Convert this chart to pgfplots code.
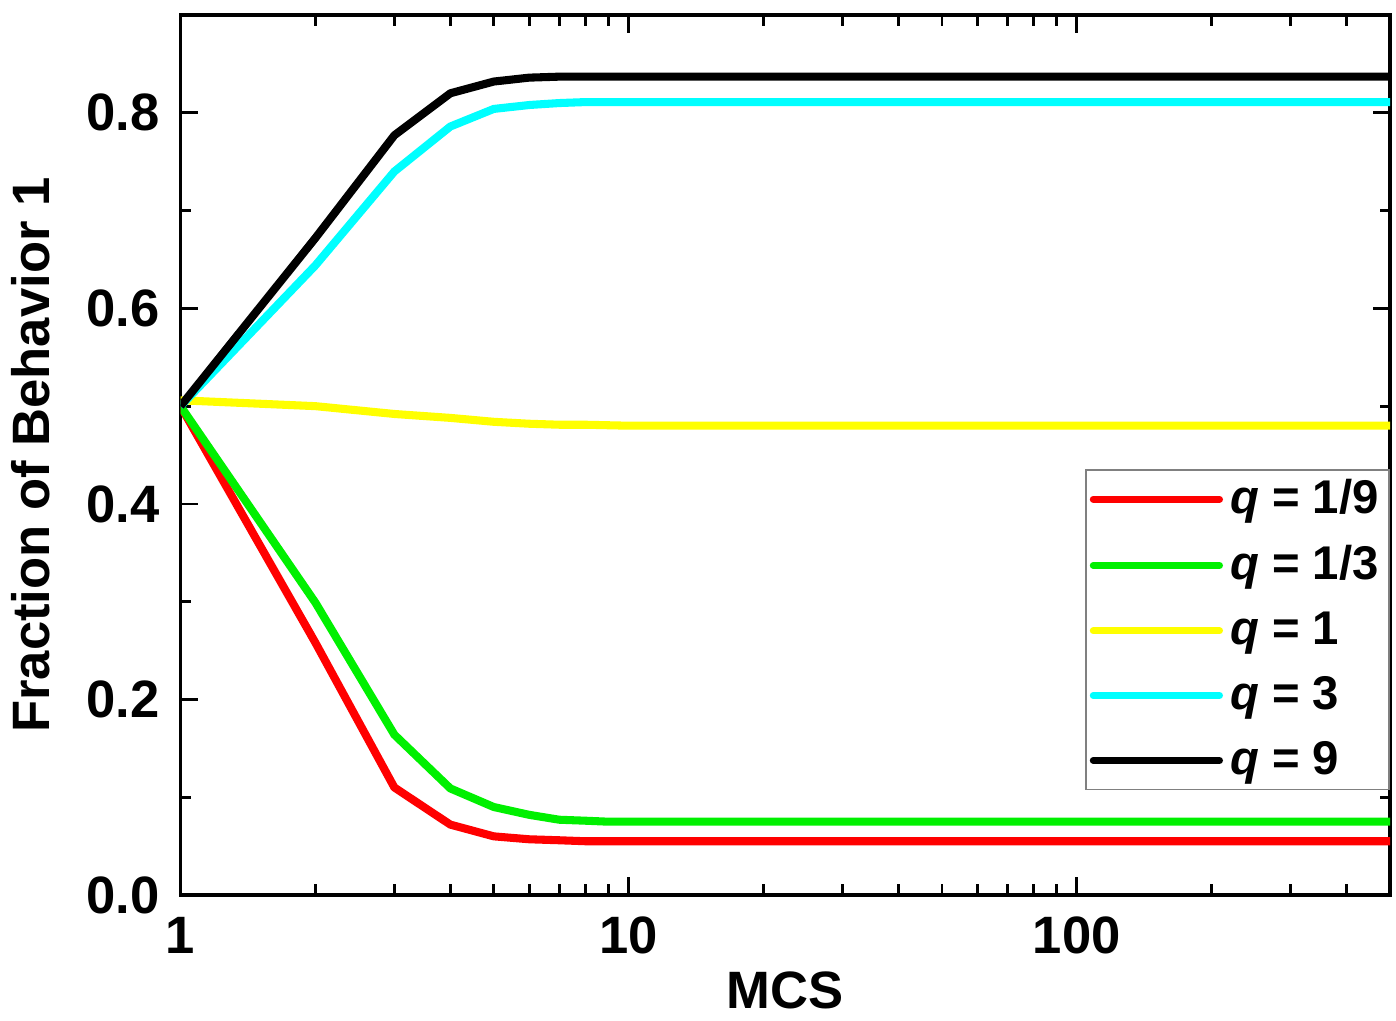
\documentclass[border=0pt]{standalone}
\usepackage{pgfplots}
\pgfplotsset{compat=1.18}
\usepackage{fontspec}
\setmainfont{Liberation Sans}
\definecolor{cRed}{RGB}{255,0,0}
\definecolor{cGreen}{RGB}{0,240,0}
\definecolor{cYellow}{RGB}{255,255,0}
\definecolor{cCyan}{RGB}{0,255,255}
\begin{document}
\begin{tikzpicture}
\begin{axis}[
  name=main,
  scale only axis=true,
  width=345pt, height=251pt,
  xmode=log, log basis x=10,
  xmin=1, xmax=500, ymin=0, ymax=0.9,
  xtick={1,10,100}, xticklabels={1,10,100},
  minor xtick={2,3,4,5,6,7,8,9,20,30,40,50,60,70,80,90,200,300,400},
  ytick={0,0.2,0.4,0.6,0.8},
  yticklabels={0.0,0.2,0.4,0.6,0.8},
  minor ytick={0.1,0.3,0.5,0.7},
  tick align=inside,
  major tick length=5pt, minor tick length=3pt,
  every tick/.style={black, line width=0.8pt},
  axis line style={line width=0.9pt},
  tick label style={font=\fontsize{15}{18}\selectfont\bfseries},
  /pgf/number format/assume math mode=true,
  xticklabel style={yshift=-2.8pt},
  yticklabel style={xshift=-2.4pt},
  xlabel={MCS}, ylabel={Fraction of Behavior 1},
  label style={font=\fontsize{15}{18}\selectfont\bfseries},
  xlabel style={yshift=2pt},
  ylabel style={yshift=3.5pt},
  legend style={at={(1,0.119)}, anchor=south east, draw=gray, line width=0.5pt,
    font=\fontsize{13.5}{16}\selectfont\bfseries, row sep=3.6pt,
    inner xsep=1pt, inner ysep=0.8pt},
  legend cell align=left,
  legend image code/.code={\draw[#1, line width=2pt, line cap=round] (0pt,0pt) -- (36pt,0pt);},
  every axis plot/.append style={line width=2.3pt, line join=round},
]
\addplot[cRed] coordinates {(1,0.5) (2,0.258) (3,0.110) (4,0.072) (5,0.060) (6,0.057) (7,0.056) (8,0.055) (9,0.055) (10,0.055) (20,0.055) (100,0.055) (500,0.055)};
\addlegendentry{\textit{q} = 1/9}
\addplot[cGreen] coordinates {(1,0.5) (2,0.299) (3,0.164) (4,0.109) (5,0.090) (6,0.082) (7,0.077) (8,0.076) (9,0.075) (10,0.075) (20,0.075) (100,0.075) (500,0.075)};
\addlegendentry{\textit{q} = 1/3}
\addplot[cYellow] coordinates {(1,0.506) (2,0.500) (3,0.492) (4,0.488) (5,0.484) (6,0.482) (7,0.481) (8,0.481) (10,0.480) (20,0.480) (100,0.480) (500,0.480)};
\addlegendentry{\textit{q} = 1}
\addplot[cCyan] coordinates {(1,0.5) (2,0.644) (3,0.740) (4,0.786) (5,0.804) (6,0.808) (7,0.810) (8,0.811) (10,0.811) (20,0.811) (100,0.811) (500,0.811)};
\addlegendentry{\textit{q} = 3}
\addplot[black] coordinates {(1,0.5) (2,0.672) (3,0.777) (4,0.820) (5,0.832) (6,0.836) (7,0.837) (8,0.837) (10,0.837) (20,0.837) (100,0.837) (500,0.837)};
\addlegendentry{\textit{q} = 9}
\end{axis}
\path (main.north east) ++(1.7pt,4.3pt) coordinate (bbtop);
\path[use as bounding box] (main.south west) (bbtop);
\end{tikzpicture}
\end{document}
